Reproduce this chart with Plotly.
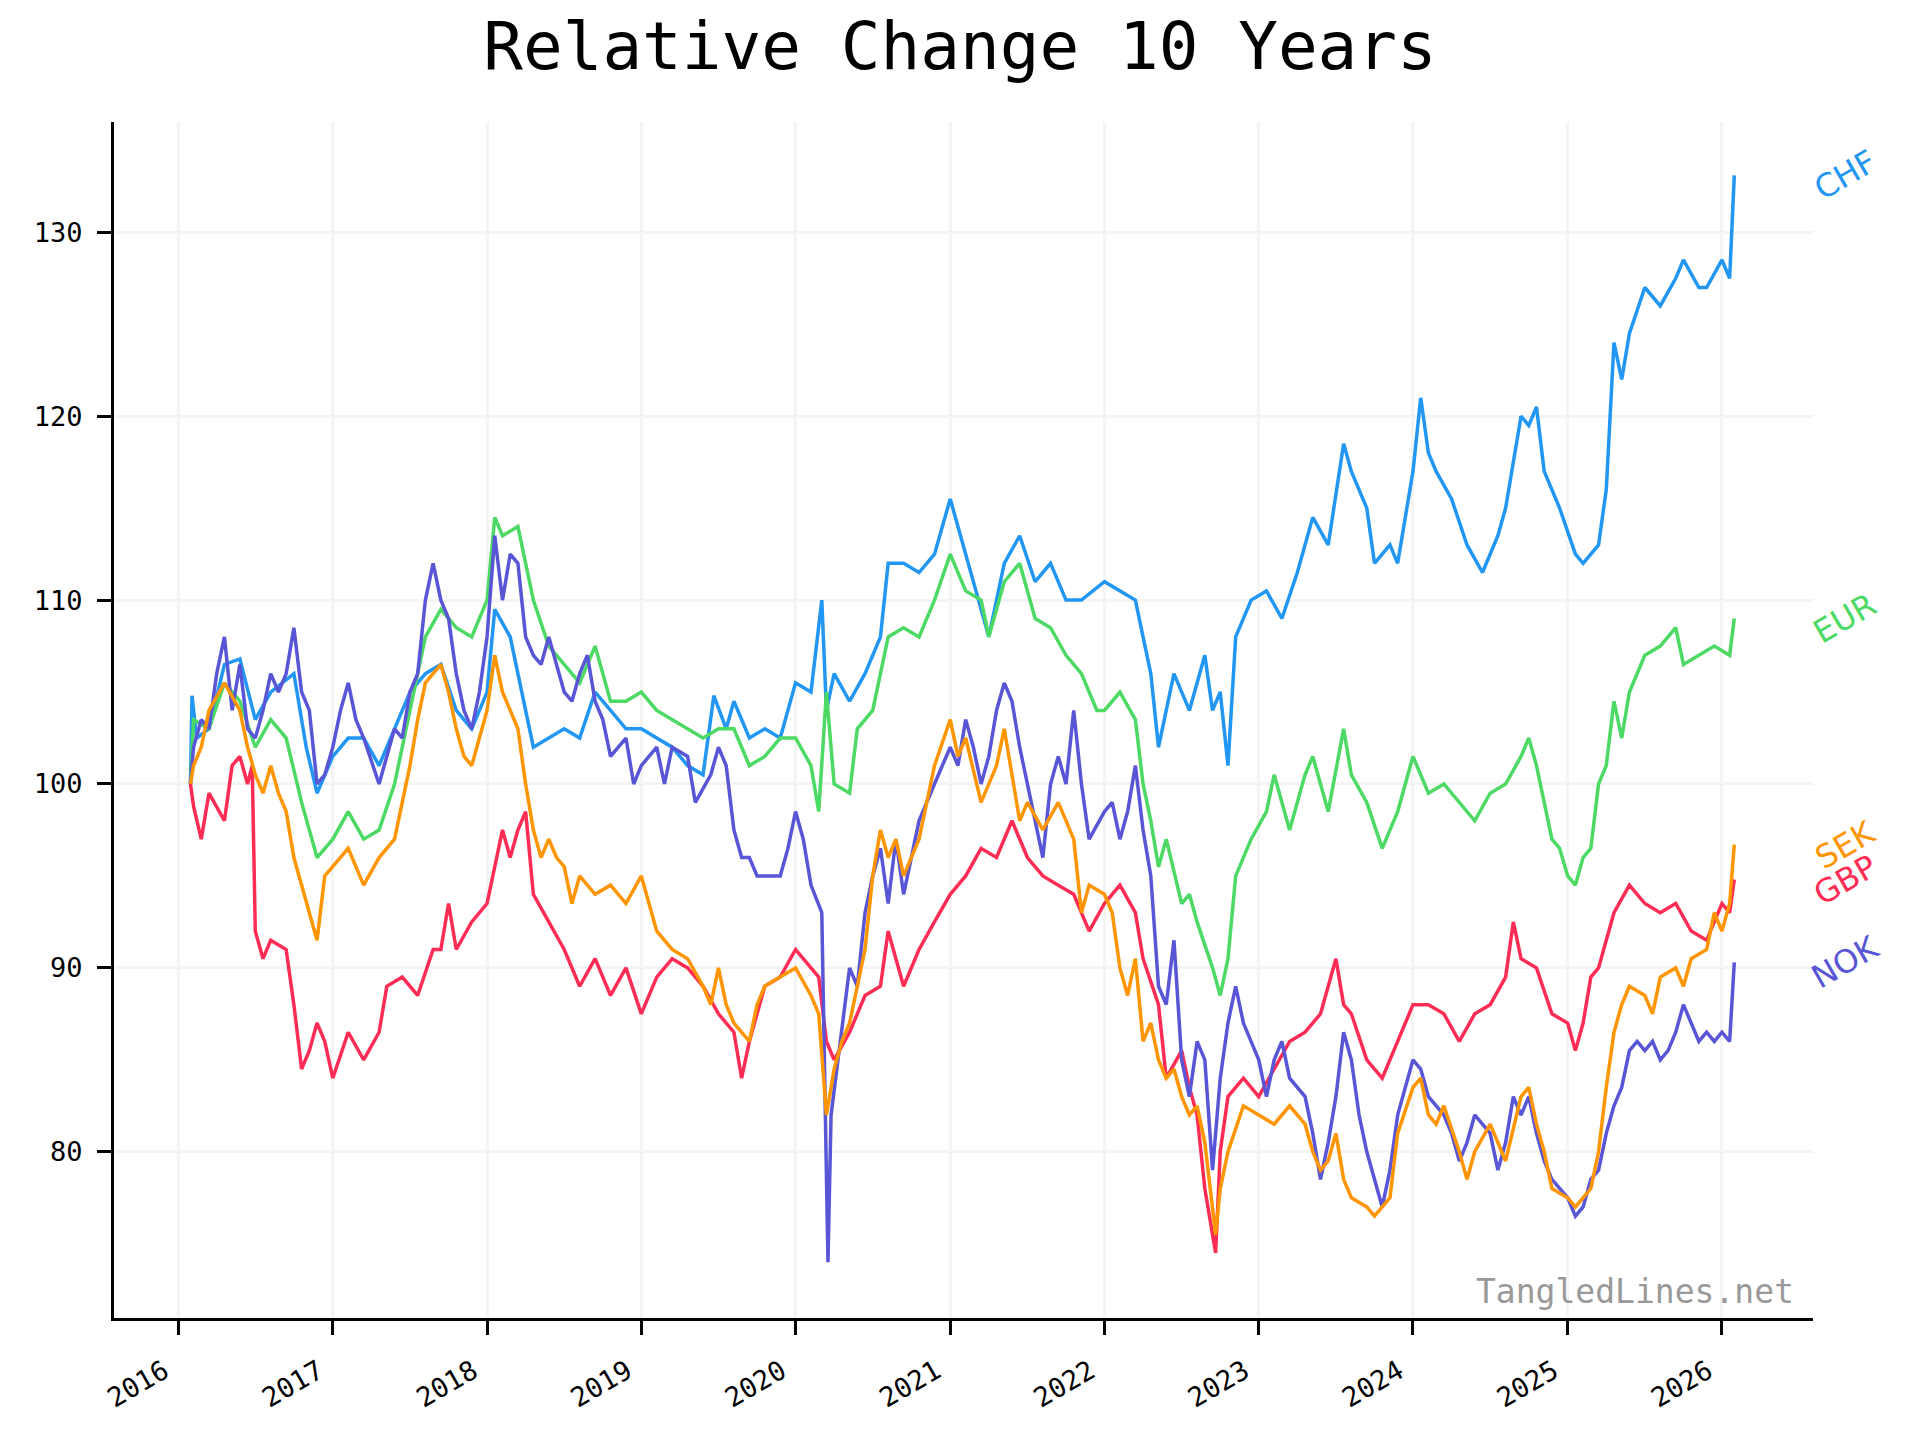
import pandas as pd
import plotly.graph_objects as go

# ---------------- data (decimal year, relative value) ----------------
chf_t = [2016.08, 2016.09, 2016.12, 2016.2, 2016.3, 2016.4, 2016.5, 2016.6, 2016.75, 2016.83, 2016.9, 2017.0, 2017.1, 2017.2,
         2017.3, 2017.4, 2017.5, 2017.6, 2017.7, 2017.8, 2017.9, 2018.0, 2018.05, 2018.15, 2018.25, 2018.3,
         2018.4, 2018.5, 2018.6, 2018.7, 2018.8, 2018.9, 2019.0, 2019.2, 2019.3, 2019.4, 2019.47, 2019.55, 2019.6,
         2019.7, 2019.8, 2019.9, 2020.0, 2020.1, 2020.17, 2020.2, 2020.25, 2020.35, 2020.45, 2020.55, 2020.6,
         2020.7, 2020.8, 2020.9, 2021.0, 2021.05, 2021.15, 2021.25, 2021.35, 2021.45, 2021.55, 2021.65,
         2021.75, 2021.85, 2022.0, 2022.1, 2022.2, 2022.3, 2022.35, 2022.45, 2022.55, 2022.65, 2022.7,
         2022.75, 2022.8, 2022.85, 2022.95, 2023.05, 2023.15, 2023.25, 2023.35, 2023.45, 2023.55, 2023.6,
         2023.7, 2023.75, 2023.85, 2023.9, 2024.0, 2024.05, 2024.1, 2024.15, 2024.25, 2024.35, 2024.45,
         2024.55, 2024.6, 2024.7, 2024.75, 2024.8, 2024.85, 2024.95, 2025.05, 2025.1, 2025.2, 2025.25,
         2025.3, 2025.35, 2025.4, 2025.5, 2025.6, 2025.7, 2025.75, 2025.85, 2025.9, 2026.0, 2026.05, 2026.08]
chf_v = [100, 104.8, 102.5, 103, 106.5, 106.8, 103.5, 105, 106, 102, 99.5, 101.5, 102.5, 102.5,
         101, 103, 105, 106, 106.5, 104, 103, 105, 109.5, 108, 104, 102,
         102.5, 103, 102.5, 105, 104, 103, 103, 102, 101, 100.5, 104.8, 103, 104.5,
         102.5, 103, 102.5, 105.5, 105, 110, 104, 106, 104.5, 106, 108, 112,
         112, 111.5, 112.5, 115.5, 114, 111, 108, 112, 113.5, 111, 112,
         110, 110, 111, 110.5, 110, 106, 102, 106, 104, 107, 104,
         105, 101, 108, 110, 110.5, 109, 111.5, 114.5, 113, 118.5, 117,
         115, 112, 113, 112, 117, 121, 118, 117, 115.5, 113, 111.5,
         113.5, 115, 120, 119.5, 120.5, 117, 115, 112.5, 112, 113, 116,
         124, 122, 124.5, 127, 126, 127.5, 128.5, 127, 127, 128.5, 127.5, 133.1]

eur_t = [2016.08, 2016.1, 2016.2, 2016.3, 2016.4, 2016.5, 2016.6, 2016.7, 2016.8, 2016.9, 2017.0, 2017.1, 2017.2,
         2017.3, 2017.4, 2017.5, 2017.6, 2017.7, 2017.8, 2017.9, 2018.0, 2018.05, 2018.1, 2018.2, 2018.3,
         2018.4, 2018.5, 2018.6, 2018.7, 2018.8, 2018.9, 2019.0, 2019.1, 2019.2, 2019.3, 2019.4, 2019.5,
         2019.6, 2019.7, 2019.8, 2019.9, 2020.0, 2020.1, 2020.15, 2020.2, 2020.25, 2020.35, 2020.4, 2020.5,
         2020.6, 2020.7, 2020.8, 2020.9, 2021.0, 2021.1, 2021.2, 2021.25, 2021.35, 2021.45, 2021.55,
         2021.65, 2021.75, 2021.85, 2021.95, 2022.0, 2022.1, 2022.2, 2022.25, 2022.3, 2022.35, 2022.4,
         2022.5, 2022.55, 2022.6, 2022.7, 2022.75, 2022.8, 2022.85, 2022.95, 2023.05, 2023.1, 2023.2,
         2023.3, 2023.35, 2023.45, 2023.55, 2023.6, 2023.7, 2023.8, 2023.9, 2024.0, 2024.1, 2024.2,
         2024.3, 2024.4, 2024.5, 2024.6, 2024.7, 2024.75, 2024.8, 2024.9, 2024.95, 2025.0, 2025.05,
         2025.1, 2025.15, 2025.2, 2025.25, 2025.3, 2025.35, 2025.4, 2025.5, 2025.6, 2025.7, 2025.75,
         2025.85, 2025.95, 2026.05, 2026.08]
eur_v = [100, 103.5, 103, 105.5, 104.5, 102, 103.5, 102.5, 99, 96, 97, 98.5, 97,
         97.5, 100, 104, 108, 109.5, 108.5, 108, 110, 114.5, 113.5, 114, 110,
         107.5, 106.5, 105.5, 107.5, 104.5, 104.5, 105, 104, 103.5, 103, 102.5, 103,
         103, 101, 101.5, 102.5, 102.5, 101, 98.5, 105, 100, 99.5, 103, 104,
         108, 108.5, 108, 110, 112.5, 110.5, 110, 108, 111, 112, 109,
         108.5, 107, 106, 104, 104, 105, 103.5, 100, 98, 95.5, 97,
         93.5, 94, 92.5, 90, 88.5, 90.5, 95, 97, 98.5, 100.5, 97.5,
         100.5, 101.5, 98.5, 103, 100.5, 99, 96.5, 98.5, 101.5, 99.5, 100,
         99, 98, 99.5, 100, 101.5, 102.5, 101, 97, 96.5, 95, 94.5,
         96, 96.5, 100, 101, 104.5, 102.5, 105, 107, 107.5, 108.5, 106.5,
         107, 107.5, 107, 109]

gbp_t = [2016.08, 2016.1, 2016.15, 2016.2, 2016.3, 2016.35, 2016.4, 2016.45, 2016.48, 2016.5, 2016.55, 2016.6,
         2016.7, 2016.75, 2016.8, 2016.85, 2016.9, 2016.95, 2017.0, 2017.1, 2017.2, 2017.3, 2017.35,
         2017.45, 2017.55, 2017.65, 2017.7, 2017.75, 2017.8, 2017.9, 2018.0, 2018.1, 2018.15, 2018.2,
         2018.25, 2018.3, 2018.4, 2018.5, 2018.6, 2018.7, 2018.8, 2018.9, 2019.0, 2019.1, 2019.2,
         2019.3, 2019.4, 2019.5, 2019.6, 2019.65, 2019.7, 2019.8, 2019.9, 2020.0, 2020.1, 2020.15,
         2020.2, 2020.25, 2020.35, 2020.45, 2020.55, 2020.6, 2020.7, 2020.8, 2020.9, 2021.0, 2021.1,
         2021.2, 2021.3, 2021.4, 2021.5, 2021.6, 2021.7, 2021.8, 2021.9, 2022.0, 2022.1, 2022.2,
         2022.25, 2022.35, 2022.4, 2022.5, 2022.55, 2022.6, 2022.65, 2022.72, 2022.75, 2022.8, 2022.9,
         2023.0, 2023.1, 2023.2, 2023.3, 2023.4, 2023.5, 2023.55, 2023.6, 2023.7, 2023.75, 2023.8,
         2023.9, 2024.0, 2024.1, 2024.2, 2024.3, 2024.4, 2024.5, 2024.6, 2024.65, 2024.7, 2024.8,
         2024.9, 2025.0, 2025.05, 2025.1, 2025.15, 2025.2, 2025.3, 2025.4, 2025.5, 2025.6, 2025.7,
         2025.8, 2025.9, 2026.0, 2026.05, 2026.08]
gbp_v = [100, 98.8, 97, 99.5, 98, 101, 101.5, 100, 101, 92, 90.5, 91.5,
         91, 88, 84.5, 85.5, 87, 86, 84, 86.5, 85, 86.5, 89,
         89.5, 88.5, 91, 91, 93.5, 91, 92.5, 93.5, 97.5, 96, 97.5,
         98.5, 94, 92.5, 91, 89, 90.5, 88.5, 90, 87.5, 89.5, 90.5,
         90, 89, 87.5, 86.5, 84, 86, 89, 89.5, 91, 90, 89.5,
         86, 85, 86.5, 88.5, 89, 92, 89, 91, 92.5, 94, 95,
         96.5, 96, 98, 96, 95, 94.5, 94, 92, 93.5, 94.5, 93,
         90.5, 88, 84, 85.5, 83.5, 82, 78, 74.5, 80, 83, 84,
         83, 84.5, 86, 86.5, 87.5, 90.5, 88, 87.5, 85, 84.5, 84,
         86, 88, 88, 87.5, 86, 87.5, 88, 89.5, 92.5, 90.5, 90,
         87.5, 87, 85.5, 87, 89.5, 90, 93, 94.5, 93.5, 93, 93.5,
         92, 91.5, 93.5, 93, 94.8]

sek_t = [2016.08, 2016.1, 2016.15, 2016.2, 2016.3, 2016.4, 2016.45, 2016.5, 2016.55, 2016.6, 2016.65, 2016.7,
         2016.75, 2016.85, 2016.9, 2016.95, 2017.0, 2017.1, 2017.2, 2017.3, 2017.4, 2017.45, 2017.5,
         2017.55, 2017.6, 2017.7, 2017.75, 2017.8, 2017.85, 2017.9, 2018.0, 2018.05, 2018.1, 2018.15,
         2018.2, 2018.25, 2018.3, 2018.35, 2018.4, 2018.45, 2018.5, 2018.55, 2018.6, 2018.7, 2018.8,
         2018.9, 2019.0, 2019.05, 2019.1, 2019.2, 2019.3, 2019.4, 2019.45, 2019.5, 2019.55, 2019.6,
         2019.7, 2019.75, 2019.8, 2019.9, 2020.0, 2020.1, 2020.15, 2020.2, 2020.25, 2020.3, 2020.35,
         2020.4, 2020.45, 2020.5, 2020.55, 2020.6, 2020.65, 2020.7, 2020.8, 2020.9, 2021.0, 2021.05,
         2021.1, 2021.2, 2021.3, 2021.35, 2021.4, 2021.45, 2021.5, 2021.6, 2021.7, 2021.8, 2021.85,
         2021.9, 2022.0, 2022.05, 2022.1, 2022.15, 2022.2, 2022.25, 2022.3, 2022.35, 2022.4, 2022.45,
         2022.5, 2022.55, 2022.6, 2022.65, 2022.72, 2022.75, 2022.8, 2022.9, 2023.0, 2023.1, 2023.2,
         2023.3, 2023.35, 2023.4, 2023.45, 2023.5, 2023.55, 2023.6, 2023.7, 2023.75, 2023.85, 2023.9,
         2024.0, 2024.05, 2024.1, 2024.15, 2024.2, 2024.3, 2024.35, 2024.4, 2024.5, 2024.55, 2024.6,
         2024.7, 2024.75, 2024.8, 2024.85, 2024.9, 2025.0, 2025.05, 2025.1, 2025.15, 2025.2, 2025.25,
         2025.3, 2025.35, 2025.4, 2025.5, 2025.55, 2025.6, 2025.7, 2025.75, 2025.8, 2025.9, 2025.95,
         2026.0, 2026.05, 2026.08]
sek_v = [100, 101, 102, 104, 105.5, 104, 102, 100.5, 99.5, 101, 99.5, 98.5,
         96, 93, 91.5, 95, 95.5, 96.5, 94.5, 96, 97, 99, 101,
         103.5, 105.5, 106.5, 105, 103, 101.5, 101, 104, 107, 105, 104,
         103, 100, 97.5, 96, 97, 96, 95.5, 93.5, 95, 94, 94.5,
         93.5, 95, 93.5, 92, 91, 90.5, 89, 88, 90, 88, 87,
         86, 88, 89, 89.5, 90, 88.5, 87.5, 82, 84.5, 86, 87,
         89, 91, 95, 97.5, 96, 97, 95, 97, 101, 103.5, 101.5,
         102.5, 99, 101, 103, 100.5, 98, 99, 97.5, 99, 97, 93,
         94.5, 94, 93, 90, 88.5, 90.5, 86, 87, 85, 84, 84.5,
         83, 82, 82.5, 80.5, 75.5, 78, 80, 82.5, 82, 81.5, 82.5,
         81.5, 80, 79, 79.5, 81, 78.5, 77.5, 77, 76.5, 77.5, 81,
         83.5, 84, 82, 81.5, 82.5, 80, 78.5, 80, 81.5, 80.5, 79.5,
         83, 83.5, 81.5, 80, 78, 77.5, 77, 77.5, 78, 80, 83.5,
         86.5, 88, 89, 88.5, 87.5, 89.5, 90, 89, 90.5, 91, 93,
         92, 93.5, 96.7]

nok_t = [2016.08, 2016.1, 2016.15, 2016.2, 2016.25, 2016.3, 2016.35, 2016.4, 2016.45, 2016.5, 2016.55, 2016.6,
         2016.65, 2016.7, 2016.75, 2016.8, 2016.85, 2016.9, 2016.95, 2017.0, 2017.05, 2017.1, 2017.15,
         2017.2, 2017.3, 2017.35, 2017.4, 2017.45, 2017.5, 2017.55, 2017.6, 2017.65, 2017.7, 2017.75,
         2017.8, 2017.85, 2017.9, 2017.95, 2018.0, 2018.05, 2018.1, 2018.15, 2018.2, 2018.25, 2018.3,
         2018.35, 2018.4, 2018.45, 2018.5, 2018.55, 2018.6, 2018.65, 2018.7, 2018.75, 2018.8, 2018.9,
         2018.95, 2019.0, 2019.1, 2019.15, 2019.2, 2019.3, 2019.35, 2019.45, 2019.5, 2019.55, 2019.6,
         2019.65, 2019.7, 2019.75, 2019.8, 2019.9, 2019.95, 2020.0, 2020.05, 2020.1, 2020.17, 2020.21,
         2020.23, 2020.26, 2020.3, 2020.35, 2020.4, 2020.45, 2020.5, 2020.55, 2020.6, 2020.65, 2020.7,
         2020.75, 2020.8, 2020.9, 2021.0, 2021.05, 2021.1, 2021.15, 2021.2, 2021.25, 2021.3, 2021.35,
         2021.4, 2021.45, 2021.5, 2021.55, 2021.6, 2021.65, 2021.7, 2021.75, 2021.8, 2021.85, 2021.9,
         2022.0, 2022.05, 2022.1, 2022.15, 2022.2, 2022.25, 2022.3, 2022.35, 2022.4, 2022.45, 2022.5,
         2022.55, 2022.6, 2022.65, 2022.7, 2022.75, 2022.8, 2022.85, 2022.9, 2022.95, 2023.0, 2023.05,
         2023.1, 2023.15, 2023.2, 2023.3, 2023.35, 2023.4, 2023.45, 2023.5, 2023.55, 2023.6, 2023.65,
         2023.7, 2023.75, 2023.8, 2023.85, 2023.9, 2024.0, 2024.05, 2024.1, 2024.2, 2024.25, 2024.3,
         2024.35, 2024.4, 2024.45, 2024.5, 2024.55, 2024.6, 2024.65, 2024.7, 2024.75, 2024.8, 2024.85,
         2024.9, 2025.0, 2025.05, 2025.1, 2025.15, 2025.2, 2025.25, 2025.3, 2025.35, 2025.4, 2025.45,
         2025.5, 2025.55, 2025.6, 2025.65, 2025.7, 2025.75, 2025.8, 2025.85, 2025.9, 2025.95, 2026.0,
         2026.05, 2026.08]
nok_v = [100, 102, 103.5, 103, 106, 108, 104, 106.5, 103, 102.5, 104, 106,
         105, 106, 108.5, 105, 104, 100, 100.5, 102, 104, 105.5, 103.5,
         102.5, 100, 101.5, 103, 102.5, 105, 106, 110, 112, 110, 109,
         106, 104, 103, 105, 108, 113.5, 110, 112.5, 112, 108, 107,
         106.5, 108, 106.5, 105, 104.5, 106, 107, 104.5, 103.5, 101.5, 102.5,
         100, 101, 102, 100, 102, 101.5, 99, 100.5, 102, 101, 97.5,
         96, 96, 95, 95, 95, 96.5, 98.5, 97, 94.5, 93, 74,
         82, 84, 87, 90, 89, 93, 95, 96.5, 93.5, 97, 94,
         96, 98, 100, 102, 101, 103.5, 102, 100, 101.5, 104, 105.5,
         104.5, 102, 100, 98, 96, 100, 101.5, 100, 104, 100, 97,
         98.5, 99, 97, 98.5, 101, 97.5, 95, 89, 88, 91.5, 85,
         83, 86, 85, 79, 84, 87, 89, 87, 86, 85, 83,
         85, 86, 84, 83, 81, 78.5, 80.5, 83, 86.5, 85, 82,
         80, 78.5, 77, 79, 82, 85, 84.5, 83, 82, 81, 79.5,
         80.5, 82, 81.5, 81, 79, 80.5, 83, 82, 83, 81, 79.5,
         78.5, 77.5, 76.5, 77, 78.5, 79, 81, 82.5, 83.5, 85.5, 86,
         85.5, 86, 85, 85.5, 86.5, 88, 87, 86, 86.5, 86, 86.5,
         86, 90.3]

names = ["CHF", "EUR", "GBP", "NOK", "SEK"]
times = [chf_t, eur_t, gbp_t, nok_t, sek_t]
values = [chf_v, eur_v, gbp_v, nok_v, sek_v]
colors = ["#2196F3", "#4CD964", "#FF2D55", "#5856D6", "#FF9500"]

title_text = "Relative Change 10 Years"
watermark = "TangledLines.net"
ytick_vals = [80, 90, 100, 110, 120, 130]
xtick_years = list(range(2016, 2027))


def to_date(yf):
    y = int(yf)
    start = pd.Timestamp(year=y, month=1, day=1)
    return start + pd.Timedelta(days=(yf - y) * 365.25)


mono = "DejaVu Sans Mono"
fig = go.Figure()
for name, t, v, c in zip(names, times, values, colors):
    fig.add_trace(go.Scatter(
        x=[to_date(a) for a in t], y=v, mode="lines", name=name,
        line=dict(color=c, width=3.5), showlegend=False))
    fig.add_annotation(
        x=1.019, xref="paper", y=v[-1], yref="y", text=name, showarrow=False,
        textangle=-30, xanchor="center", yanchor="middle",
        font=dict(family="DejaVu Sans", size=32, color=c))

fig.add_annotation(
    x=0.99, xref="paper", y=0.022, yref="paper", text=watermark, showarrow=False,
    xanchor="right", yanchor="middle",
    font=dict(family=mono, size=33, color="#999999"))

fig.update_layout(
    width=1920, height=1440,
    margin=dict(l=106, r=115, t=114, b=130),
    paper_bgcolor="white", plot_bgcolor="white",
    title=dict(text=title_text, x=0.5 - 8 / 1920, xanchor="center", y=1 - 15 / 1440, yanchor="top",
               font=dict(family=mono, size=66, color="black")),
)
fig.update_xaxes(
    range=[to_date(2015.584), to_date(2026.59)],
    tickvals=[pd.Timestamp(year=y, month=1, day=1) for y in xtick_years],
    ticktext=[str(y) + "\u00a0" for y in xtick_years],
    tickangle=-30, ticklabelstandoff=2,
    tickfont=dict(family=mono, size=27, color="black"),
    showline=True, linecolor="black", linewidth=3,
    ticks="outside", ticklen=14, tickwidth=3, tickcolor="black",
    showgrid=True, gridcolor="#f4f4f4", gridwidth=3, zeroline=False,
)
fig.update_yaxes(
    range=[70.96, 136.0],
    tickvals=ytick_vals, ticklabelstandoff=9,
    tickfont=dict(family=mono, size=27, color="black"),
    showline=True, linecolor="black", linewidth=3,
    ticks="outside", ticklen=14, tickwidth=3, tickcolor="black",
    showgrid=True, gridcolor="#f4f4f4", gridwidth=3, zeroline=False,
)

fig.write_html("out.html")
